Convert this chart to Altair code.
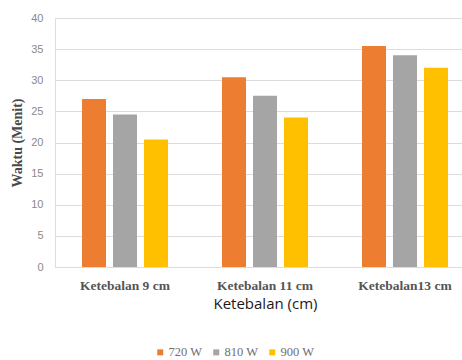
import altair as alt
import pandas as pd

# Drying time per sample thickness and microwave power
categories = ["Ketebalan 9 cm", "Ketebalan 11 cm", "Ketebalan13 cm"]
series = ["720 W", "810 W", "900 W"]
values_720 = [27, 30.5, 35.5]
values_810 = [24.5, 27.5, 34]
values_900 = [20.5, 24, 32]
colors = ["#ED7D31", "#A5A5A5", "#FFC000"]

rows = []
for name, vals in zip(series, [values_720, values_810, values_900]):
    for cat, v in zip(categories, vals):
        rows.append({"kategori": cat, "daya": name, "waktu": v})
df = pd.DataFrame(rows)

chart = alt.Chart(df).mark_bar().encode(
    x=alt.X(
        "kategori:N",
        sort=categories,
        scale=alt.Scale(range=[0, 420], paddingInner=0, paddingOuter=0),
        axis=alt.Axis(
            title="Ketebalan (cm)",
            labelAngle=0,
            labelFont="Liberation Serif",
            labelFontWeight="bold",
            labelFontSize=13.5,
            labelColor="#555555",
            labelPadding=11,
            ticks=False,
            domain=False,
            grid=False,
            titleFont="Open Sans",
            titleFontWeight="normal",
            titleFontSize=15,
            titleColor="#1a1a1a",
            titlePadding=5,
        ),
    ),
    xOffset=alt.XOffset(
        "daya:N",
        sort=series,
        scale=alt.Scale(paddingInner=0.226, paddingOuter=0.871),
    ),
    y=alt.Y(
        "waktu:Q",
        scale=alt.Scale(domain=[0, 40]),
        axis=alt.Axis(
            title="Waktu (Menit)",
            values=[0, 5, 10, 15, 20, 25, 30, 35, 40],
            labelFont="Liberation Sans",
            labelFontSize=11,
            labelColor="#8a8a8a",
            labelPadding=12,
            ticks=False,
            domain=False,
            gridColor="#dcdcdc",
            gridWidth=1.2,
            titleFont="Liberation Serif",
            titleFontWeight="bold",
            titleFontSize=14,
            titleColor="#4a4a4a",
            titlePadding=6,
        ),
    ),
    color=alt.Color(
        "daya:N",
        sort=series,
        scale=alt.Scale(domain=series, range=colors),
        legend=alt.Legend(
            title=None,
            orient="none",
            direction="horizontal",
            legendX=99,
            legendY=328,
            symbolType="square",
            symbolSize=36,
            symbolStrokeWidth=0,
            labelFont="Liberation Serif",
            labelFontSize=12.5,
            labelColor="#707070",
            labelOffset=2,
            columnPadding=7,
        ),
    ),
).properties(
    width=407,
    height=249,
    autosize=alt.AutoSizeParams(type="none"),
    padding={"left": 55, "top": 18, "right": 0, "bottom": 93},
).configure_view(stroke=None).configure(background="white")

chart.save("out.html", embed_options={"renderer": "svg", "actions": False})
